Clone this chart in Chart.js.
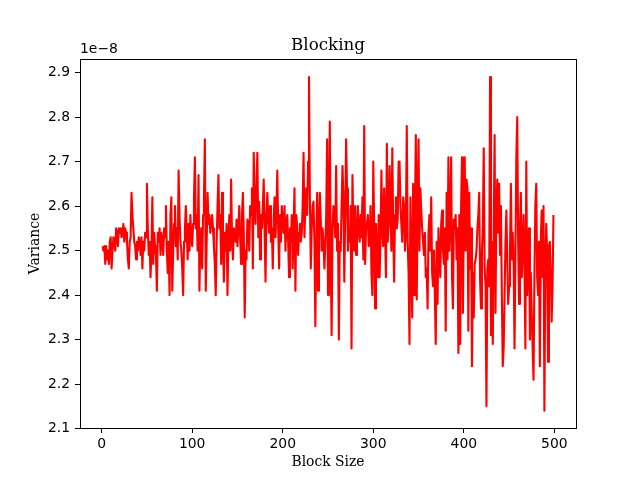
<!DOCTYPE html>
<html>
<head>
<meta charset="utf-8">
<script src="https://cdn.jsdelivr.net/npm/chart.js@4.4.0/dist/chart.umd.min.js"></script>
<style>
  body { margin: 0; background: #fff; }
  #wrap { width: 640px; height: 480px; }
</style>
</head>
<body>
<div id="wrap"><canvas id="chart" width="640" height="480"></canvas></div>
<script>
// Block size of the first point, the rest follow one by one
const blockStart = 1;
// Variance per block size, in units of 1e-8
const variance = [
  2.51, 2.50, 2.51, 2.47, 2.51, 2.48, 2.50, 2.47, 2.52, 2.53,
  2.46, 2.50, 2.53, 2.52, 2.50, 2.55, 2.54, 2.51, 2.55, 2.54,
  2.55, 2.53, 2.54, 2.56, 2.52, 2.55, 2.54, 2.52, 2.48, 2.46,
  2.52, 2.53, 2.63, 2.58, 2.55, 2.52, 2.51, 2.48, 2.52, 2.50,
  2.53, 2.52, 2.49, 2.53, 2.46, 2.52, 2.50, 2.54, 2.53, 2.65,
  2.55, 2.49, 2.52, 2.44, 2.50, 2.62, 2.47, 2.54, 2.51, 2.49,
  2.41, 2.54, 2.52, 2.55, 2.49, 2.54, 2.52, 2.49, 2.55, 2.53,
  2.60, 2.50, 2.45, 2.52, 2.40, 2.58, 2.62, 2.41, 2.50, 2.56,
  2.60, 2.51, 2.55, 2.48, 2.68, 2.58, 2.52, 2.50, 2.46, 2.40,
  2.52, 2.55, 2.60, 2.54, 2.48, 2.56, 2.50, 2.58, 2.53, 2.51,
  2.56, 2.62, 2.71, 2.55, 2.58, 2.50, 2.67, 2.41, 2.52, 2.55,
  2.46, 2.58, 2.62, 2.75, 2.41, 2.52, 2.63, 2.56, 2.58, 2.54,
  2.56, 2.58, 2.55, 2.51, 2.47, 2.40, 2.52, 2.60, 2.67, 2.55,
  2.58, 2.47, 2.63, 2.52, 2.43, 2.54, 2.50, 2.56, 2.40, 2.53,
  2.58, 2.50, 2.66, 2.53, 2.48, 2.55, 2.54, 2.52, 2.57, 2.51,
  2.55, 2.60, 2.53, 2.47, 2.58, 2.63, 2.54, 2.35, 2.50, 2.48,
  2.57, 2.56, 2.50, 2.60, 2.58, 2.64, 2.46, 2.72, 2.60, 2.56,
  2.65, 2.72, 2.53, 2.61, 2.48, 2.58, 2.55, 2.60, 2.66, 2.54,
  2.43, 2.58, 2.63, 2.57, 2.54, 2.60, 2.52, 2.55, 2.46, 2.57,
  2.62, 2.53, 2.59, 2.68, 2.55, 2.46, 2.58, 2.52, 2.60, 2.56,
  2.54, 2.60, 2.50, 2.56, 2.58, 2.52, 2.44, 2.55, 2.52, 2.58,
  2.46, 2.55, 2.64, 2.41, 2.58, 2.55, 2.49, 2.54, 2.56, 2.52,
  2.54, 2.60, 2.72, 2.53, 2.60, 2.64, 2.58, 2.70, 2.89, 2.62,
  2.46, 2.55, 2.60, 2.61, 2.52, 2.33, 2.50, 2.63, 2.41, 2.55,
  2.63, 2.57, 2.50, 2.55, 2.52, 2.46, 2.51, 2.58, 2.75, 2.40,
  2.60, 2.79, 2.48, 2.31, 2.55, 2.60, 2.58, 2.53, 2.69, 2.50,
  2.56, 2.30, 2.52, 2.50, 2.60, 2.69, 2.62, 2.43, 2.58, 2.75,
  2.64, 2.50, 2.55, 2.52, 2.60, 2.28, 2.67, 2.55, 2.50, 2.60,
  2.49, 2.52, 2.60, 2.55, 2.52, 2.58, 2.53, 2.62, 2.48, 2.78,
  2.47, 2.55, 2.56, 2.58, 2.51, 2.53, 2.60, 2.45, 2.40, 2.70,
  2.55, 2.37, 2.56, 2.49, 2.44, 2.58, 2.44, 2.52, 2.68, 2.55,
  2.51, 2.64, 2.55, 2.44, 2.74, 2.52, 2.56, 2.69, 2.60, 2.50,
  2.73, 2.56, 2.43, 2.58, 2.62, 2.55, 2.57, 2.70, 2.70, 2.60,
  2.56, 2.52, 2.62, 2.60, 2.50, 2.55, 2.78, 2.52, 2.45, 2.29,
  2.62, 2.47, 2.35, 2.65, 2.40, 2.58, 2.76, 2.39, 2.62, 2.75,
  2.50, 2.64, 2.59, 2.55, 2.52, 2.49, 2.54, 2.44, 2.46, 2.37,
  2.54, 2.58, 2.50, 2.62, 2.45, 2.42, 2.50, 2.40, 2.29, 2.52,
  2.38, 2.55, 2.49, 2.44, 2.56, 2.59, 2.50, 2.47, 2.55, 2.32,
  2.63, 2.48, 2.71, 2.50, 2.56, 2.71, 2.44, 2.37, 2.57, 2.55,
  2.58, 2.48, 2.55, 2.27, 2.58, 2.29, 2.60, 2.71, 2.36, 2.58,
  2.71, 2.50, 2.66, 2.64, 2.32, 2.63, 2.46, 2.55, 2.24, 2.45,
  2.35, 2.47, 2.48, 2.50, 2.55, 2.58, 2.63, 2.43, 2.37, 2.50,
  2.55, 2.73, 2.46, 2.42, 2.15, 2.46, 2.48, 2.42, 2.89, 2.31,
  2.52, 2.29, 2.54, 2.76, 2.36, 2.60, 2.66, 2.54, 2.65, 2.49,
  2.60, 2.40, 2.24, 2.28, 2.40, 2.52, 2.59, 2.48, 2.38, 2.42,
  2.50, 2.65, 2.48, 2.54, 2.48, 2.28, 2.50, 2.71, 2.80, 2.52,
  2.38, 2.55, 2.63, 2.44, 2.50, 2.58, 2.46, 2.28, 2.70, 2.40,
  2.49, 2.55, 2.30, 2.45, 2.36, 2.28, 2.21, 2.45, 2.60, 2.65,
  2.44, 2.40, 2.52, 2.24, 2.52, 2.59, 2.44, 2.60, 2.14, 2.46,
  2.56, 2.50, 2.25, 2.51, 2.52, 2.45, 2.34, 2.42, 2.58
];
// Tick labels
const xTicks = [0, 100, 200, 300, 400, 500];
const yTicks = [2.1, 2.2, 2.3, 2.4, 2.5, 2.6, 2.7, 2.8, 2.9];

const tickFont = { family: 'DejaVu Sans', size: 13.9 };
const serifFont = { family: 'DejaVu Serif', size: 13.9 };

// Frame, title and the 1e-8 offset text, drawn like matplotlib does
const framePlugin = {
    id: 'frame',
    afterDraw(chart) {
        const { ctx, chartArea } = chart;
        ctx.save();
        ctx.strokeStyle = '#000';
        ctx.lineWidth = 1;
        ctx.strokeRect(Math.round(chartArea.left) + 0.5, Math.round(chartArea.top) + 0.5,
            Math.round(chartArea.right - chartArea.left), Math.round(chartArea.bottom - chartArea.top));
        ctx.fillStyle = '#000';
        ctx.textAlign = 'center';
        ctx.textBaseline = 'alphabetic';
        ctx.font = '16.7px "DejaVu Serif"';
        ctx.fillText('Blocking', (chartArea.left + chartArea.right) / 2, chartArea.top - 9);
        ctx.textAlign = 'left';
        ctx.font = '13.9px "DejaVu Sans"';
        ctx.fillText('1e\u22128', chartArea.left, chartArea.top - 6);
        ctx.restore();
    }
};

const chartCanvas = document.querySelector('#chart');
new Chart(chartCanvas, {
    type: 'line',
    data: {
        datasets: [{
            label: 'Variance',
            data: variance.map((v, i) => ({ x: blockStart + i, y: v })),
            borderColor: '#ff0000',
            borderWidth: 2.1,
            borderJoinStyle: 'round',
            pointRadius: 0,
            tension: 0,
            fill: false
        }]
    },
    options: {
        responsive: false,
        animation: false,
        devicePixelRatio: 1,
        layout: { padding: { top: 59, right: 64, left: 0, bottom: 0 } },
        plugins: {
            legend: { display: false },
            tooltip: { enabled: false },
            title: { display: false }
        },
        scales: {
            x: {
                type: 'linear',
                min: -23.9,
                max: 523.9,
                afterBuildTicks: (scale) => { scale.ticks = xTicks.map(v => ({ value: v })); },
                afterFit: (scale) => { scale.height = 52; },
                grid: { drawOnChartArea: false, drawTicks: true, tickLength: 5, color: '#000', tickColor: '#000' },
                border: { display: false },
                ticks: { color: '#000', font: tickFont, padding: 3, maxRotation: 0, callback: (v) => String(v) },
                title: { display: true, text: 'Block Size', color: '#000', font: serifFont, padding: { top: 0, bottom: 9 } }
            },
            y: {
                type: 'linear',
                min: 2.1013,
                max: 2.9307,
                afterBuildTicks: (scale) => { scale.ticks = yTicks.map(v => ({ value: v })); },
                afterFit: (scale) => { scale.width = 80; },
                grid: { drawOnChartArea: false, drawTicks: true, tickLength: 5, color: '#000', tickColor: '#000' },
                border: { display: false },
                ticks: { color: '#000', font: tickFont, padding: 5, callback: (v) => v.toFixed(1) },
                title: { display: true, text: 'Variance', color: '#000', font: serifFont, padding: { top: 27, bottom: 0 } }
            }
        }
    },
    plugins: [framePlugin]
});
</script>
</body>
</html>
